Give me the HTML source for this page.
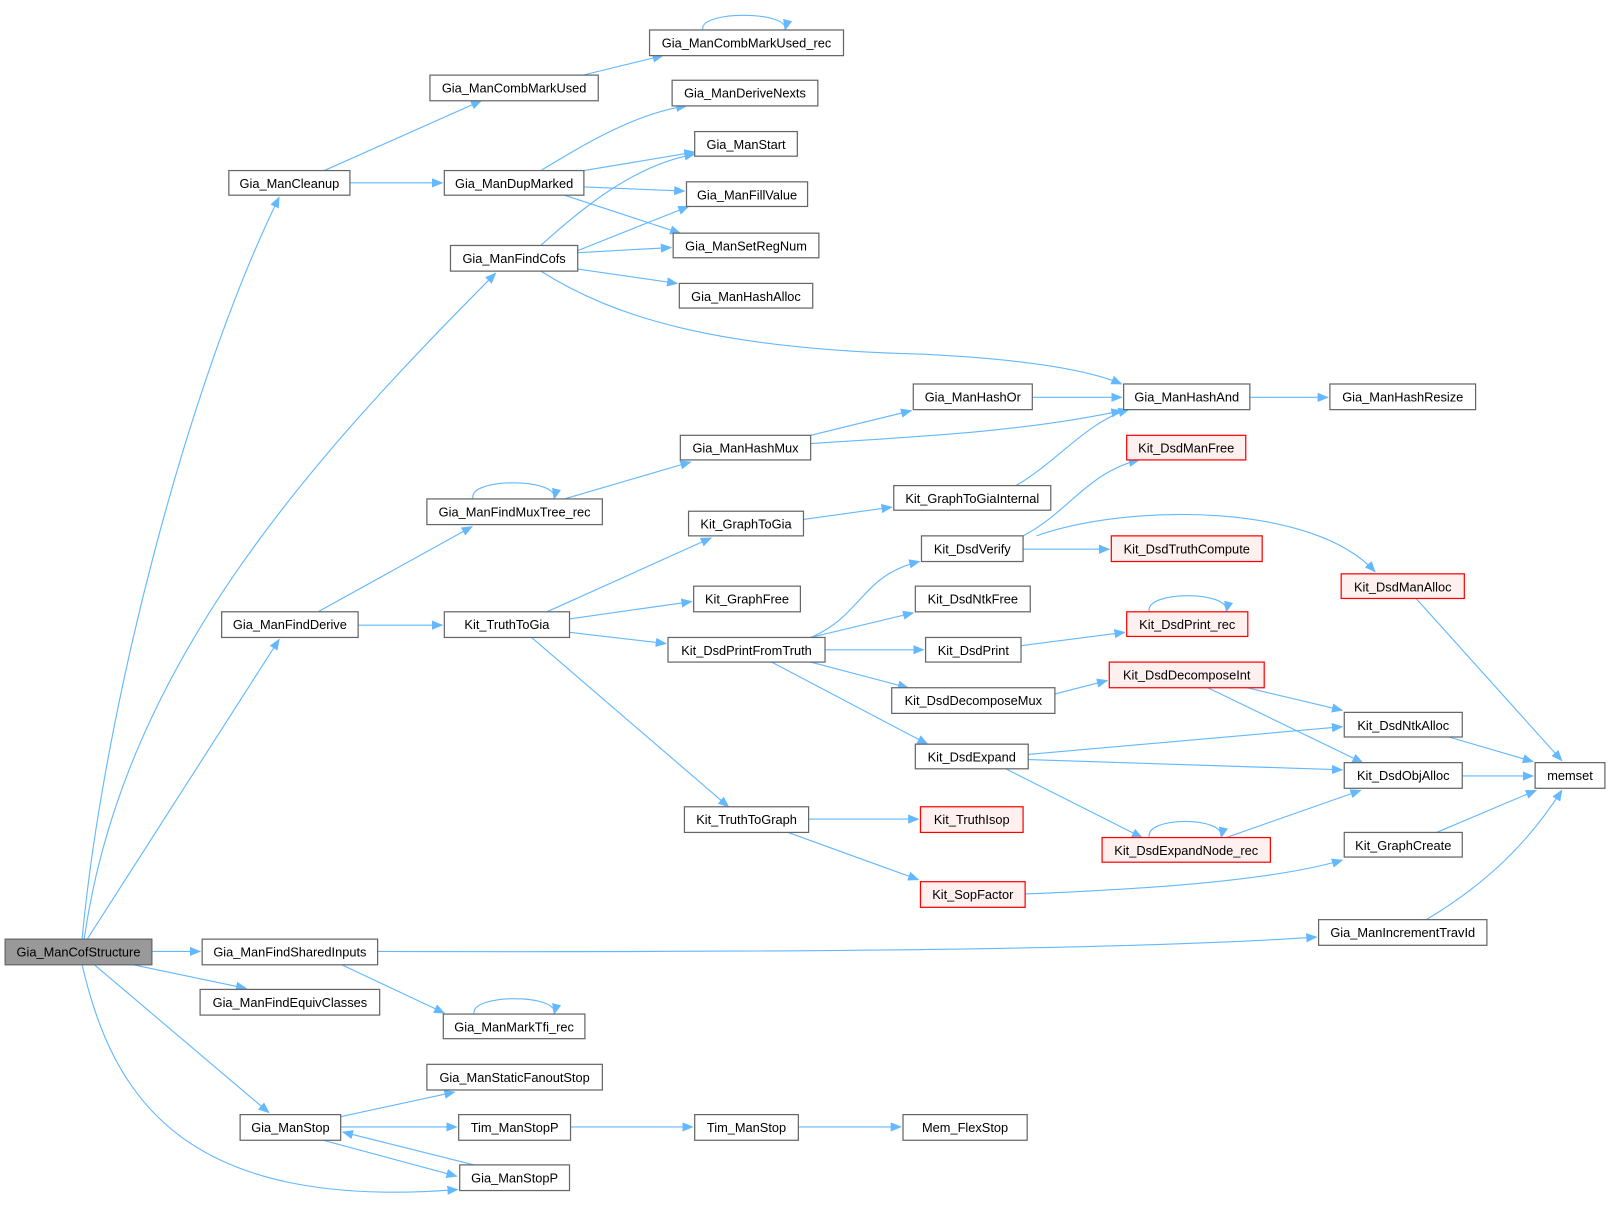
<!DOCTYPE html>
<html><head><meta charset="utf-8"><style>
html,body{margin:0;padding:0;background:#fff;}
svg text{font-family:"Liberation Sans",Arial,sans-serif;font-size:12.5px;fill:#000;}
</style></head><body>
<svg width="1609" height="1200" viewBox="0 0 1568 1169" xmlns="http://www.w3.org/2000/svg">
<defs><marker id="a" markerWidth="11" markerHeight="9" refX="10" refY="4.5" orient="auto" markerUnits="userSpaceOnUse"><path d="M0,0 L11,4.5 L0,9 z" fill="#63b8ff"/></marker></defs>
<g fill="none" stroke="#63b8ff" stroke-width="1.1" marker-end="url(#a)">
<path d="M80,915 C100,700 180,380 272,192"/>
<path d="M82,915 C120,650 300,450 483,266"/>
<path d="M85,915 L272,623"/>
<path d="M148,927 L195,927"/>
<path d="M130,940 L240,963"/>
<path d="M92,940 L262,1084"/>
<path d="M80,940 C110,1070 180,1180 446,1159"/>
<path d="M316,166 L469,98"/>
<path d="M341,178 L431,178"/>
<path d="M568,73 L646,54"/>
<path d="M685,29 C680,10 770,10 765,29"/>
<path d="M527,166 C570,140 620,110 669,103"/>
<path d="M569,166 L677,148"/>
<path d="M569,182 L667,186"/>
<path d="M550,190 L663,227"/>
<path d="M527,239 C570,200 620,160 677,150"/>
<path d="M563,244 L671,201"/>
<path d="M563,246 L654,241"/>
<path d="M563,262 L660,276"/>
<path d="M527,264 C600,310 700,340 900,345 C1000,350 1060,360 1093,374"/>
<path d="M1006,387 L1093,387"/>
<path d="M1218,387 L1294,387"/>
<path d="M790,424 L888,400"/>
<path d="M790,432 C900,425 1000,420 1093,400"/>
<path d="M990,473 C1030,450 1060,410 1100,399"/>
<path d="M550,486 L673,450"/>
<path d="M461,486 C455,465 545,465 540,486"/>
<path d="M310,596 L460,513"/>
<path d="M349,609 L431,609"/>
<path d="M533,596 L693,524"/>
<path d="M555,603 L674,586"/>
<path d="M555,616 L649,627"/>
<path d="M518,621 L710,786"/>
<path d="M783,506 L869,494"/>
<path d="M790,621 C840,600 840,560 896,547"/>
<path d="M790,621 L890,597"/>
<path d="M804,633 L900,633"/>
<path d="M790,645 L885,670"/>
<path d="M752,645 L904,725"/>
<path d="M997,522 C1040,500 1060,460 1110,448"/>
<path d="M997,535 L1081,535"/>
<path d="M1010,522 C1100,490 1280,490 1340,557"/>
<path d="M1380,583 L1522,741"/>
<path d="M995,629 L1096,616"/>
<path d="M1120,596 C1115,575 1200,575 1195,596"/>
<path d="M1028,676 L1079,663"/>
<path d="M1215,670 L1308,692"/>
<path d="M1177,670 L1328,743"/>
<path d="M1002,735 L1308,708"/>
<path d="M1002,740 L1308,750"/>
<path d="M980,749 L1113,816"/>
<path d="M1120,816 C1115,795 1195,795 1190,816"/>
<path d="M1195,816 L1326,770"/>
<path d="M1412,718 L1494,742"/>
<path d="M1425,756 L1494,756"/>
<path d="M1400,811 L1497,770"/>
<path d="M1390,896 C1450,860 1490,820 1522,770"/>
<path d="M788,798 L895,798"/>
<path d="M768,811 L895,857"/>
<path d="M999,871 C1150,865 1250,855 1308,838"/>
<path d="M368,927 C800,928 1100,925 1283,913"/>
<path d="M333,940 L433,987"/>
<path d="M462,988 C458,968 545,968 540,988"/>
<path d="M332,1088 L443,1064"/>
<path d="M332,1098 L445,1098"/>
<path d="M556,1098 L675,1098"/>
<path d="M778,1098 L878,1098"/>
<path d="M315,1111 L445,1146"/>
<path d="M462,1135 L334,1103"/>
</g>
<g stroke-width="1.2" text-anchor="middle">
<g fill="#fff" stroke="#666">
<rect x="223" y="166" width="118" height="24"/>
<rect x="419" y="73" width="164" height="25"/>
<rect x="633" y="29" width="189" height="25"/>
<rect x="655" y="78" width="142" height="25"/>
<rect x="677" y="128" width="100" height="24"/>
<rect x="433" y="166" width="136" height="24"/>
<rect x="669" y="177" width="118" height="24"/>
<rect x="656" y="227" width="142" height="24"/>
<rect x="439" y="239" width="124" height="25"/>
<rect x="662" y="276" width="130" height="24"/>
<rect x="890" y="374" width="116" height="25"/>
<rect x="1095" y="374" width="123" height="25"/>
<rect x="1296" y="374" width="142" height="25"/>
<rect x="663" y="424" width="127" height="24"/>
<rect x="416" y="486" width="171" height="25"/>
<rect x="871" y="473" width="153" height="24"/>
<rect x="671" y="498" width="112" height="24"/>
<rect x="898" y="522" width="99" height="25"/>
<rect x="676" y="571" width="104" height="25"/>
<rect x="892" y="571" width="112" height="25"/>
<rect x="216" y="596" width="133" height="25"/>
<rect x="433" y="596" width="122" height="25"/>
<rect x="651" y="621" width="153" height="24"/>
<rect x="902" y="621" width="93" height="24"/>
<rect x="869" y="670" width="159" height="25"/>
<rect x="1310" y="694" width="115" height="24"/>
<rect x="892" y="725" width="110" height="24"/>
<rect x="1310" y="743" width="115" height="25"/>
<rect x="1496" y="743" width="68" height="25"/>
<rect x="667" y="786" width="121" height="25"/>
<rect x="1310" y="811" width="115" height="24"/>
<rect x="1285" y="896" width="164" height="25"/>
<rect x="197" y="915" width="171" height="25"/>
<rect x="195" y="964" width="175" height="25"/>
<rect x="432" y="988" width="138" height="24"/>
<rect x="416" y="1037" width="171" height="25"/>
<rect x="234" y="1086" width="98" height="25"/>
<rect x="447" y="1086" width="109" height="25"/>
<rect x="677" y="1086" width="101" height="25"/>
<rect x="880" y="1086" width="121" height="25"/>
<rect x="448" y="1135" width="107" height="25"/>
</g>
<rect x="5" y="915" width="143" height="25" fill="#999" stroke="#666"/>
<g fill="#fff0f0" stroke="#ff0000">
<rect x="1098" y="424" width="116" height="24"/>
<rect x="1083" y="522" width="147" height="25"/>
<rect x="1307" y="559" width="120" height="24"/>
<rect x="1098" y="596" width="118" height="24"/>
<rect x="1081" y="645" width="151" height="25"/>
<rect x="897" y="786" width="100" height="25"/>
<rect x="1074" y="816" width="164" height="24"/>
<rect x="897" y="859" width="102" height="25"/>
</g>
<text x="76.5" y="932">Gia_ManCofStructure</text>
<text x="282" y="183">Gia_ManCleanup</text>
<text x="501" y="90">Gia_ManCombMarkUsed</text>
<text x="727.5" y="46">Gia_ManCombMarkUsed_rec</text>
<text x="726" y="95">Gia_ManDeriveNexts</text>
<text x="727" y="145">Gia_ManStart</text>
<text x="501" y="183">Gia_ManDupMarked</text>
<text x="728" y="194">Gia_ManFillValue</text>
<text x="727" y="244">Gia_ManSetRegNum</text>
<text x="501" y="256">Gia_ManFindCofs</text>
<text x="727" y="293">Gia_ManHashAlloc</text>
<text x="948" y="391">Gia_ManHashOr</text>
<text x="1156.5" y="391">Gia_ManHashAnd</text>
<text x="1367" y="391">Gia_ManHashResize</text>
<text x="726.5" y="441">Gia_ManHashMux</text>
<text x="1156" y="441">Kit_DsdManFree</text>
<text x="501.5" y="503">Gia_ManFindMuxTree_rec</text>
<text x="947.5" y="490">Kit_GraphToGiaInternal</text>
<text x="727" y="515">Kit_GraphToGia</text>
<text x="947.5" y="539">Kit_DsdVerify</text>
<text x="1156.5" y="539">Kit_DsdTruthCompute</text>
<text x="1367" y="576">Kit_DsdManAlloc</text>
<text x="728" y="588">Kit_GraphFree</text>
<text x="948" y="588">Kit_DsdNtkFree</text>
<text x="282.5" y="613">Gia_ManFindDerive</text>
<text x="494" y="613">Kit_TruthToGia</text>
<text x="1157" y="613">Kit_DsdPrint_rec</text>
<text x="727.5" y="638">Kit_DsdPrintFromTruth</text>
<text x="948.5" y="638">Kit_DsdPrint</text>
<text x="1156.5" y="662">Kit_DsdDecomposeInt</text>
<text x="948.5" y="687">Kit_DsdDecomposeMux</text>
<text x="1367.5" y="711">Kit_DsdNtkAlloc</text>
<text x="947" y="742">Kit_DsdExpand</text>
<text x="1367.5" y="760">Kit_DsdObjAlloc</text>
<text x="1530" y="760">memset</text>
<text x="727.5" y="803">Kit_TruthToGraph</text>
<text x="947" y="803">Kit_TruthIsop</text>
<text x="1156" y="833">Kit_DsdExpandNode_rec</text>
<text x="1367.5" y="828">Kit_GraphCreate</text>
<text x="948" y="876">Kit_SopFactor</text>
<text x="1367" y="913">Gia_ManIncrementTravId</text>
<text x="282.5" y="932">Gia_ManFindSharedInputs</text>
<text x="282.5" y="981">Gia_ManFindEquivClasses</text>
<text x="501" y="1005">Gia_ManMarkTfi_rec</text>
<text x="501.5" y="1054">Gia_ManStaticFanoutStop</text>
<text x="283" y="1103">Gia_ManStop</text>
<text x="501.5" y="1103">Tim_ManStopP</text>
<text x="727.5" y="1103">Tim_ManStop</text>
<text x="940.5" y="1103">Mem_FlexStop</text>
<text x="501.5" y="1152">Gia_ManStopP</text>
</g>
</svg>
</body></html>
